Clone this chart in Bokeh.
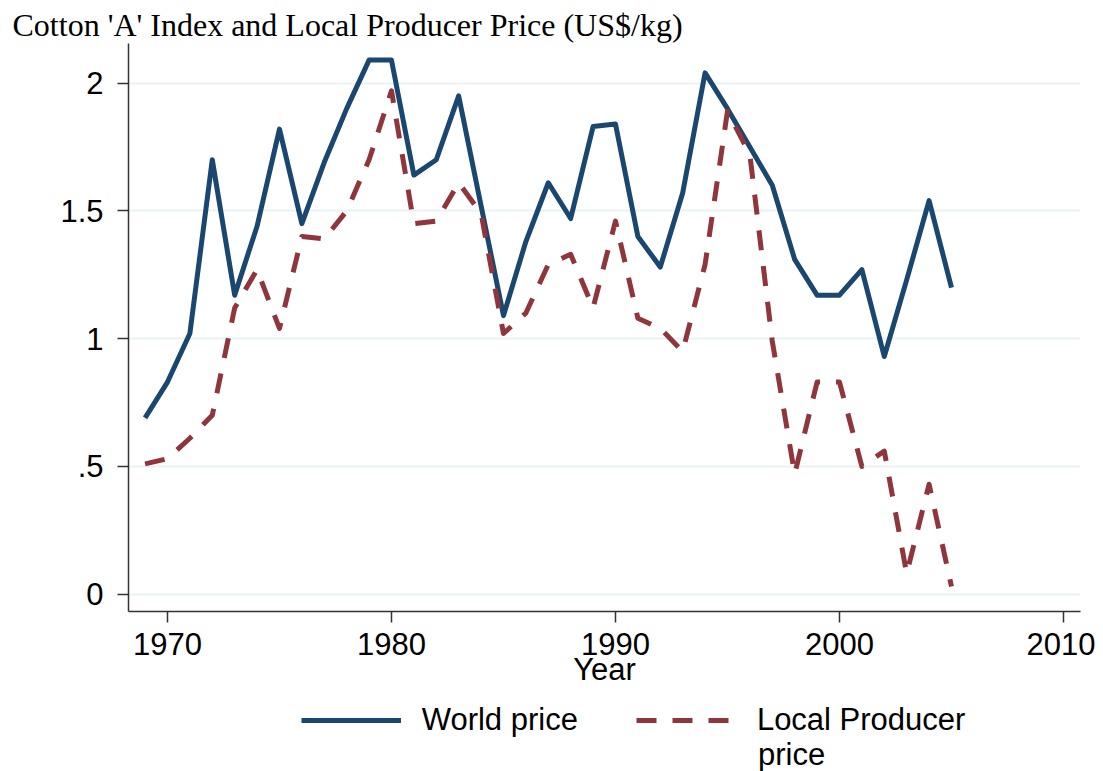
from bokeh.plotting import figure
from bokeh.models import Range1d, FixedTicker, Legend, LegendItem, Label
from bokeh.layouts import column
from bokeh.embed import file_html
from bokeh.resources import INLINE

years = list(range(1969, 2006))
world_price = [0.69, 0.83, 1.02, 1.70, 1.17, 1.44, 1.82, 1.45, 1.69, 1.90,
               2.09, 2.09, 1.64, 1.70, 1.95, 1.52, 1.09, 1.38, 1.61, 1.47,
               1.83, 1.84, 1.40, 1.28, 1.57, 2.04, 1.90, 1.75, 1.60, 1.31,
               1.17, 1.17, 1.27, 0.93, 1.23, 1.54, 1.20]
local_price = [0.51, 0.53, 0.61, 0.70, 1.12, 1.27, 1.04, 1.40, 1.39, 1.50,
               1.70, 1.97, 1.45, 1.46, 1.61, 1.49, 1.02, 1.10, 1.29, 1.33,
               1.12, 1.46, 1.08, 1.04, 0.95, 1.29, 1.89, 1.72, 0.99, 0.47,
               0.83, 0.83, 0.50, 0.56, 0.08, 0.43, 0.03]
x_ticks = [1970, 1980, 1990, 2000, 2010]
y_ticks = [0, 0.5, 1, 1.5, 2]
y_tick_labels = ["0", ".5", "1", "1.5", "2"]
title_text = "Cotton 'A' Index and Local Producer Price (US$/kg)"
x_label = "Year"
series_names = ["World price", "Local Producer", "price"]

SANS = "Liberation Sans"
SERIF = "Liberation Serif"
AX = "#333333"
BLUE = "#1a476f"
RED = "#90353b"
DASH = "20 16"
W = 1095
BL, BR = 128, 15

p = figure(width=W, height=700, output_backend="svg", toolbar_location=None,
           x_range=Range1d(1968.26, 2010.76), y_range=Range1d(-0.068, 2.155),
           min_border_left=BL, min_border_right=BR, min_border_top=43,
           min_border_bottom=89)
p.outline_line_color = None
p.background_fill_color = "white"

p.title.text = title_text
p.title.text_font = SERIF
p.title.text_font_size = "32px"
p.title.text_font_style = "normal"
p.title.text_color = "black"
p.title.align = "left"
p.title.offset = -116
p.title.standoff = 2

p.line(years, world_price, line_color=BLUE, line_width=5, line_join="round")
p.line(years, local_price, line_color=RED, line_width=5, line_dash=DASH, line_join="round")

p.xaxis.ticker = FixedTicker(ticks=x_ticks)
p.yaxis.ticker = FixedTicker(ticks=y_ticks)
p.yaxis.major_label_overrides = {t: s for t, s in zip(y_ticks, y_tick_labels)}
p.xgrid.visible = False
p.ygrid.ticker = FixedTicker(ticks=y_ticks)
p.ygrid.grid_line_color = "#eaf2f3"
p.ygrid.grid_line_width = 2

for ax in (p.xaxis[0], p.yaxis[0]):
    ax.axis_line_color = AX
    ax.axis_line_width = 1.5
    ax.major_tick_line_color = AX
    ax.major_tick_line_width = 1.5
    ax.major_tick_out = 11
    ax.major_tick_in = 0
    ax.minor_tick_line_color = None
    ax.major_label_text_font = SANS
    ax.major_label_text_font_size = "31px"
    ax.major_label_text_color = "black"

p.xaxis.major_label_standoff = 10
p.yaxis.major_label_standoff = 14
p.xaxis.axis_label = x_label
p.xaxis.axis_label_text_font = SANS
p.xaxis.axis_label_text_font_size = "31px"
p.xaxis.axis_label_text_font_style = "normal"
p.xaxis.axis_label_text_color = "black"
p.xaxis.axis_label_standoff = -6

# legend strip below the chart (frame aligned with the chart frame)
LH = 71
q = figure(width=W, height=LH, output_backend="svg", toolbar_location=None,
           x_range=Range1d(0, 1), y_range=Range1d(0, 1),
           x_axis_location=None, y_axis_location=None,
           min_border_left=BL, min_border_right=BR, min_border_top=0,
           min_border_bottom=0)
q.outline_line_color = None
q.grid.visible = False
# off-range stand-ins that only supply the legend swatches
k1 = q.line([-10, -9], [-10, -10], line_color=BLUE, line_width=5)
k2 = q.line([-10, -9], [-10, -10], line_color=RED, line_width=5, line_dash=DASH)

legend = Legend(items=[LegendItem(label=series_names[0], renderers=[k1]),
                       LegendItem(label=series_names[1], renderers=[k2])],
                orientation="horizontal", location=(172.7, 33),
                glyph_width=100, glyph_height=36, label_height=36,
                label_standoff=21, spacing=58, padding=0, margin=0,
                border_line_alpha=0, background_fill_alpha=0,
                label_text_font=SANS, label_text_font_size="31px",
                label_text_color="black")
q.add_layout(legend)
q.add_layout(Label(x=629.5, y=17, x_units="screen", y_units="screen",
                   text=series_names[2], text_font=SANS, text_font_size="31px",
                   text_baseline="alphabetic", text_color="black"))

open("out.html", "w").write(file_html(column(p, q, spacing=0), INLINE))
